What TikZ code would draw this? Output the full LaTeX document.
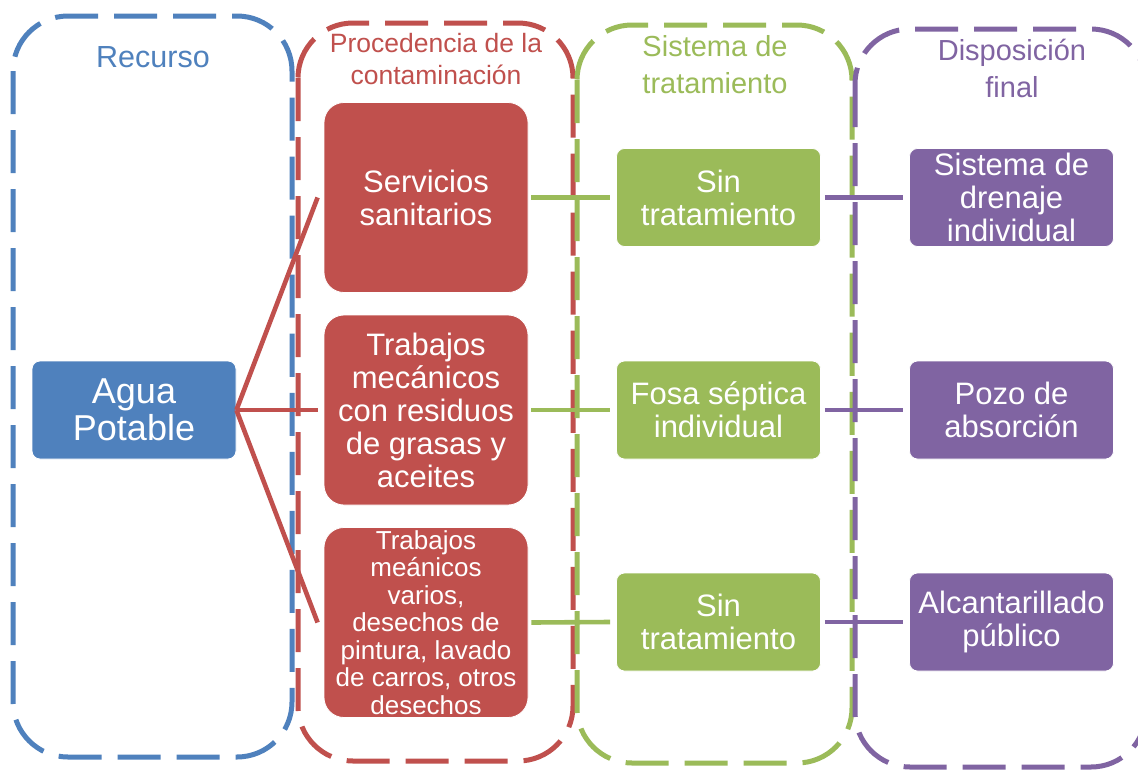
\documentclass[tikz,border=0pt]{standalone}
\usepackage{fontspec}
\setmainfont{Liberation Sans}
\definecolor{cblue}{HTML}{4F81BD}
\definecolor{cred}{HTML}{C0504D}
\definecolor{cgreen}{HTML}{9BBB59}
\definecolor{cpurple}{HTML}{8064A2}
\begin{document}
\begin{tikzpicture}[x=1pt,y=-1pt,
  container/.style={line width=5pt, dash pattern=on 43pt off 16pt, rounded corners=55pt},
  box/.style={rectangle, draw=white, line width=0.8pt, text=white, align=center, inner sep=0pt, minimum width=204pt},
  smallbox/.style={box, minimum height=98pt, rounded corners=8pt},
  tallbox/.style={box, minimum height=190pt, rounded corners=20pt, fill=cred},
  bigtxt/.style={font=\fontsize{31}{33}\selectfont},
  hdr/.style={align=center, inner sep=0pt},
  conn/.style={line width=4.6pt}
]
\clip (0,0) rectangle (1138,769);
\fill[white] (0,0) rectangle (1138,769);

% containers
\draw[container, cblue] (13,16) rectangle (292,757);
\draw[container, cred] (298,23) rectangle (573,761);
\draw[container, cgreen] (577,25) rectangle (852,763);
\draw[container, cpurple] (855,29) rectangle (1146,767);

% headers
\node[hdr, text=cblue, font=\fontsize{30.5}{37}\selectfont] (h1) at (153,57) {Recurso};
\node[hdr, text=cred, font=\fontsize{26.5}{32}\selectfont] (h2) at (436,59) {Procedencia de la\\contaminación};
\node[hdr, text=cgreen, font=\fontsize{29}{37}\selectfont] (h3) at (715,65) {Sistema de\\tratamiento};
\node[hdr, text=cpurple, font=\fontsize{29}{37}\selectfont] (h4) at (1012,68) {Disposición\\final};

% boxes
\node[smallbox, fill=cblue, font=\fontsize{36}{37}\selectfont] (agua) at (134,410) {Agua\\Potable};

\node[tallbox, bigtxt] (r1) at (426,197.5) {Servicios\\sanitarios};
\node[tallbox, bigtxt] (r2) at (426,410) {Trabajos\\mecánicos\\con residuos\\de grasas y\\aceites};
\node[tallbox, font=\fontsize{26}{27.5}\selectfont] (r3) at (426,622.5) {Trabajos\\meánicos\\varios,\\desechos de\\pintura, lavado\\de carros, otros\\desechos};

\node[smallbox, fill=cgreen, bigtxt] (g1) at (718.5,197.5) {Sin\\tratamiento};
\node[smallbox, fill=cgreen, bigtxt] (g2) at (718.5,410) {Fosa séptica\\individual};
\node[smallbox, fill=cgreen, bigtxt] (g3) at (718.5,622) {Sin\\tratamiento};

\node[smallbox, fill=cpurple, bigtxt] (p1) at (1011.5,197.5) {Sistema de\\drenaje\\individual};
\node[smallbox, fill=cpurple, bigtxt] (p2) at (1011.5,410) {Pozo de\\absorción};
\node[smallbox, fill=cpurple, bigtxt] (p3) at (1011.5,622) {Alcantarillado\\público};

% connectors
\draw[conn, cred] (agua.east) -- ([xshift=-6pt]r1.west);
\draw[conn, cred] (agua.east) -- ([xshift=-6pt]r2.west);
\draw[conn, cred] (agua.east) -- ([xshift=-6pt]r3.west);

\draw[conn, cgreen] ([xshift=3pt]r1.east) -- ([xshift=-6pt]g1.west);
\draw[conn, cgreen] ([xshift=3pt]r2.east) -- ([xshift=-6pt]g2.west);
\draw[conn, cgreen] ([xshift=3pt]r3.east) -- ([xshift=-6pt]g3.west);

\draw[conn, cpurple] ([xshift=4pt]g1.east) -- ([xshift=-6pt]p1.west);
\draw[conn, cpurple] ([xshift=4pt]g2.east) -- ([xshift=-6pt]p2.west);
\draw[conn, cpurple] ([xshift=4pt]g3.east) -- ([xshift=-6pt]p3.west);
\end{tikzpicture}
\end{document}
